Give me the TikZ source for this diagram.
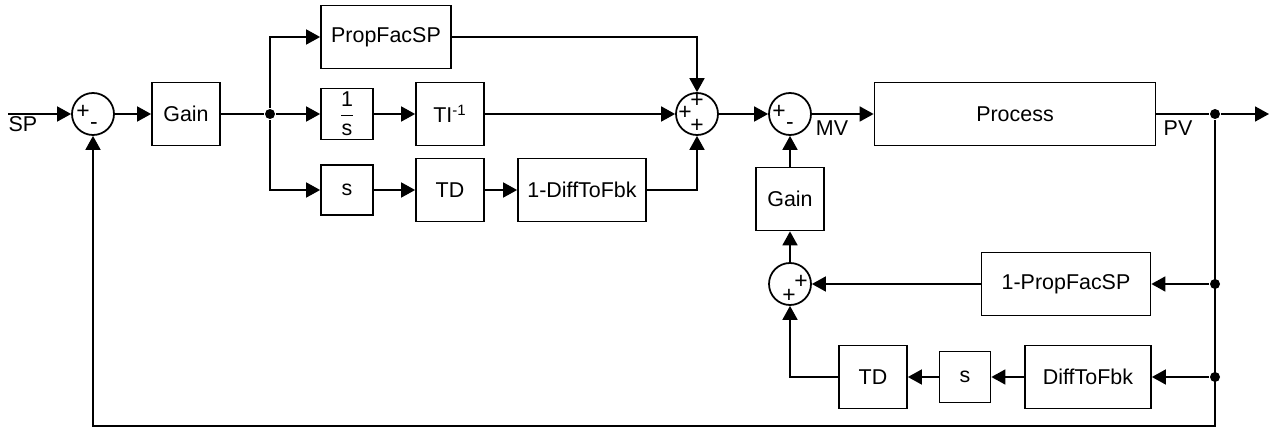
\documentclass[tikz,border=0pt]{standalone}
\usepackage{fontspec,amsmath}
\setmainfont{Liberation Sans}
\usetikzlibrary{arrows.meta,positioning}

\begin{document}
\begin{tikzpicture}[x=0.2mm,y=-0.2mm,line width=1pt,>={Triangle[length=2.8mm,width=3mm]},
 blk/.style={draw,minimum height=12.6mm,inner sep=1pt,font=\fontsize{12.2}{14}\selectfont},
 sumnode/.style={draw,circle,minimum size=8.4mm,inner sep=0pt},
 sgn/.style={inner sep=0pt,font=\fontsize{13}{13}\selectfont},
 lbl/.style={inner sep=0pt,font=\fontsize{12.2}{14}\selectfont},
 dot/.style={circle,fill,inner sep=0pt,minimum size=2mm}]
\useasboundingbox (0,0) rectangle (1270,428);
% forward path
\coordinate (sp) at (8,114);
\node[lbl] (splbl) at (23,124) {SP};
\node[sumnode] (sum1) at (93,114) {};
\node[blk,minimum width=13.6mm] (gain) at (186,114) {Gain};
\node[dot] (j1) at (270,114) {};
\node[blk,minimum width=26mm] (pfac) at (386,37) {PropFacSP};
\node[blk,minimum width=10.4mm,minimum height=10.2mm] (integ) at (347,114) {$\dfrac{\textrm{1}}{\textrm{s}}$};
\node[blk,minimum width=13.6mm] (ti) at (450,114) {TI\textsuperscript{-1}};
\node[blk,minimum width=10.4mm,minimum height=10mm] (deriv) at (347,190) {s};
\node[blk,minimum width=13.6mm] (td) at (450,190) {TD};
\node[blk,minimum width=25.6mm] (dfb) at (582,190) {1-DiffToFbk};
\node[sumnode] (sum2) at (697,114) {};
\node[sumnode] (sum3) at (790,114) {};
\node[lbl] (mvlbl) at (832,128) {MV};
\node[blk,minimum width=56.2mm] (proc) at (1015,114) {Process};
\node[lbl] (pvlbl) at (1178,128) {PV};
\node[dot] (j2) at (1215,114) {};
\coordinate (out) at (1269,114);
% feedback path
\node[blk,minimum width=13.6mm] (fbgain) at (790,199) {Gain};
\node[sumnode] (sum4) at (790,284) {};
\node[blk,minimum width=33.8mm] (pfac2) at (1066,284) {1-PropFacSP};
\node[dot] (j3) at (1215,284) {};
\node[blk,minimum width=25.2mm] (dfb2) at (1088,377) {DiffToFbk};
\node[blk,minimum width=10.2mm,minimum height=10.2mm] (deriv2) at (965,377) {s};
\node[blk,minimum width=13.6mm] (td2) at (873,377) {TD};
\node[dot] (j4) at (1215,377) {};
\coordinate (cbr) at (1215,426);
% signs
\node[sgn] (s1a) at (83,112) {+};
\node[sgn] (s1b) at (94,126) {-};
\node[sgn] (s2a) at (685,113) {+};
\node[sgn] (s2b) at (697,101) {+};
\node[sgn] (s2c) at (697,126) {+};
\node[sgn] (s3a) at (779,112) {+};
\node[sgn] (s3b) at (790,126) {-};
\node[sgn] (s4a) at (801,282) {+};
\node[sgn] (s4b) at (789,296) {+};
% connectors
\draw[->] (sp) -- (sum1);
\draw[->] (sum1) -- (gain);
\draw (gain) -- (j1);
\draw[->] (j1) |- (pfac);
\draw[->] (j1) -- (integ);
\draw[->] (j1) |- (deriv);
\draw[->] (integ) -- (ti);
\draw[->] (ti) -- (sum2);
\draw[->] (pfac) -| (sum2);
\draw[->] (deriv) -- (td);
\draw[->] (td) -- (dfb);
\draw[->] (dfb) -| (sum2);
\draw[->] (sum2) -- (sum3);
\draw[->] (sum3) -- (proc);
\draw (proc) -- (j2);
\draw[->] (j2) -- (out);
\draw[->] (j2) -- (cbr) -| (sum1);
\draw[->] (j3) -- (pfac2);
\draw[->] (pfac2) -- (sum4);
\draw[->] (j4) -- (dfb2);
\draw[->] (dfb2) -- (deriv2);
\draw[->] (deriv2) -- (td2);
\draw[->] (td2) -| (sum4);
\draw[->] (sum4) -- (fbgain);
\draw[->] (fbgain) -- (sum3);
\end{tikzpicture}
\end{document}
